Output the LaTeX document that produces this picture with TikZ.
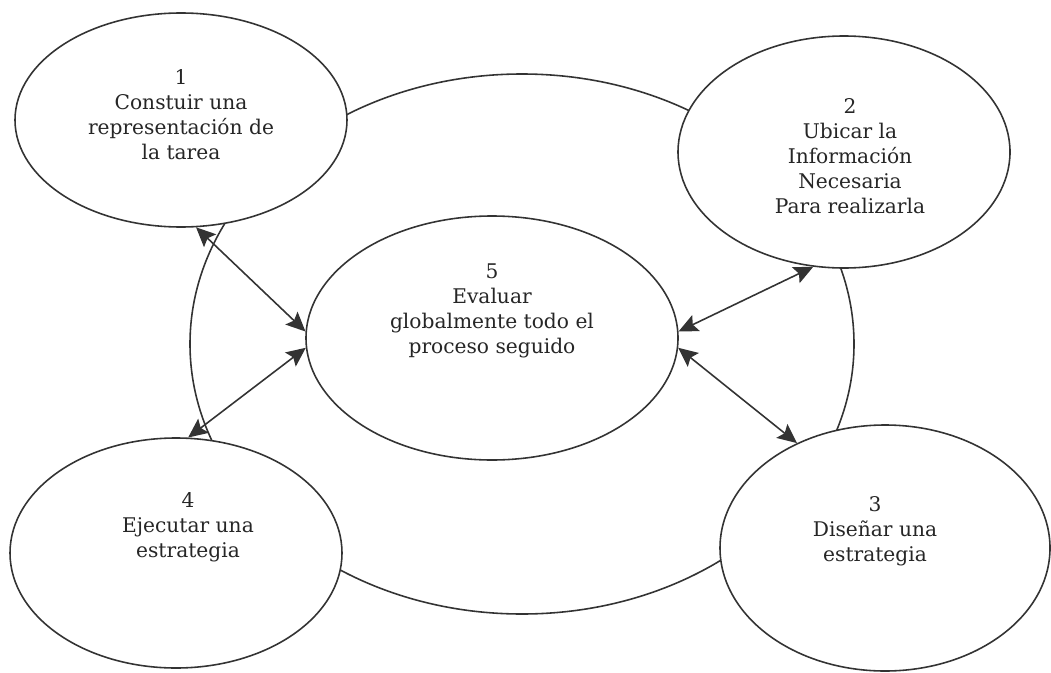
\documentclass[tikz,border=0pt]{standalone}
\usepackage{fontspec}
\setmainfont{DejaVu Serif}
\usetikzlibrary{shapes.geometric,arrows.meta}
\begin{document}
\begin{tikzpicture}[>={Stealth[length=11pt,width=10pt,inset=2pt]},line join=round,line cap=round,
	font=\fontsize{11.5}{14.2}\selectfont,
	paso/.style={ellipse,draw=black!80,line width=0.9pt,fill=white,inner sep=0pt},
	texto/.style={align=center,text=black!85,inner sep=0pt},
	flecha/.style={<->,draw=black!80,line width=0.9pt}]
		
		\useasboundingbox (0,0) rectangle (21.02,13.44);
		% Elipse grande detras de los pasos
		\node[paso,fill=none,minimum width=13.28cm,minimum height=10.8cm] (ciclo) at (10.44,6.56) {};
		
		\node[paso,minimum width=6.64cm,minimum height=4.28cm] (paso1) at (3.62,11.04) {};
		\node[paso,minimum width=6.64cm,minimum height=4.64cm] (paso2) at (16.88,10.40) {};
		\node[paso,minimum width=6.60cm,minimum height=4.92cm] (paso3) at (17.70,2.48) {};
		\node[paso,minimum width=6.64cm,minimum height=4.60cm] (paso4) at (3.52,2.38) {};
		\node[paso,minimum width=7.44cm,minimum height=4.88cm] (paso5) at (9.84,6.68) {};
		
		\node[texto,yshift=0.1cm] (t1) at (paso1.center) {1\\Constuir una\\representación de\\la tarea};
		\node[texto,xshift=0.12cm,yshift=-0.08cm] (t2) at (paso2.center) {2\\Ubicar la\\Información\\Necesaria\\Para realizarla};
		\node[texto,xshift=-0.2cm,yshift=0.34cm] (t3) at (paso3.center) {3\\Diseñar una\\estrategia};
		\node[texto,xshift=0.24cm,yshift=0.52cm] (t4) at (paso4.center) {4\\Ejecutar una\\estrategia};
		\node[texto,yshift=0.54cm] (t5) at (paso5.center) {5\\Evaluar\\globalmente todo el\\proceso seguido};
		
		% Flechas dobles hacia el paso 5
		\draw[flecha] (paso1.-82) -- (paso5.178);
		\draw[flecha] (paso4.84) -- (paso5.183);
		\draw[flecha] (paso5.2) -- (paso2.-105);
		\draw[flecha] (paso5.-3) -- (paso3.130);
	\end{tikzpicture}
\end{document}
